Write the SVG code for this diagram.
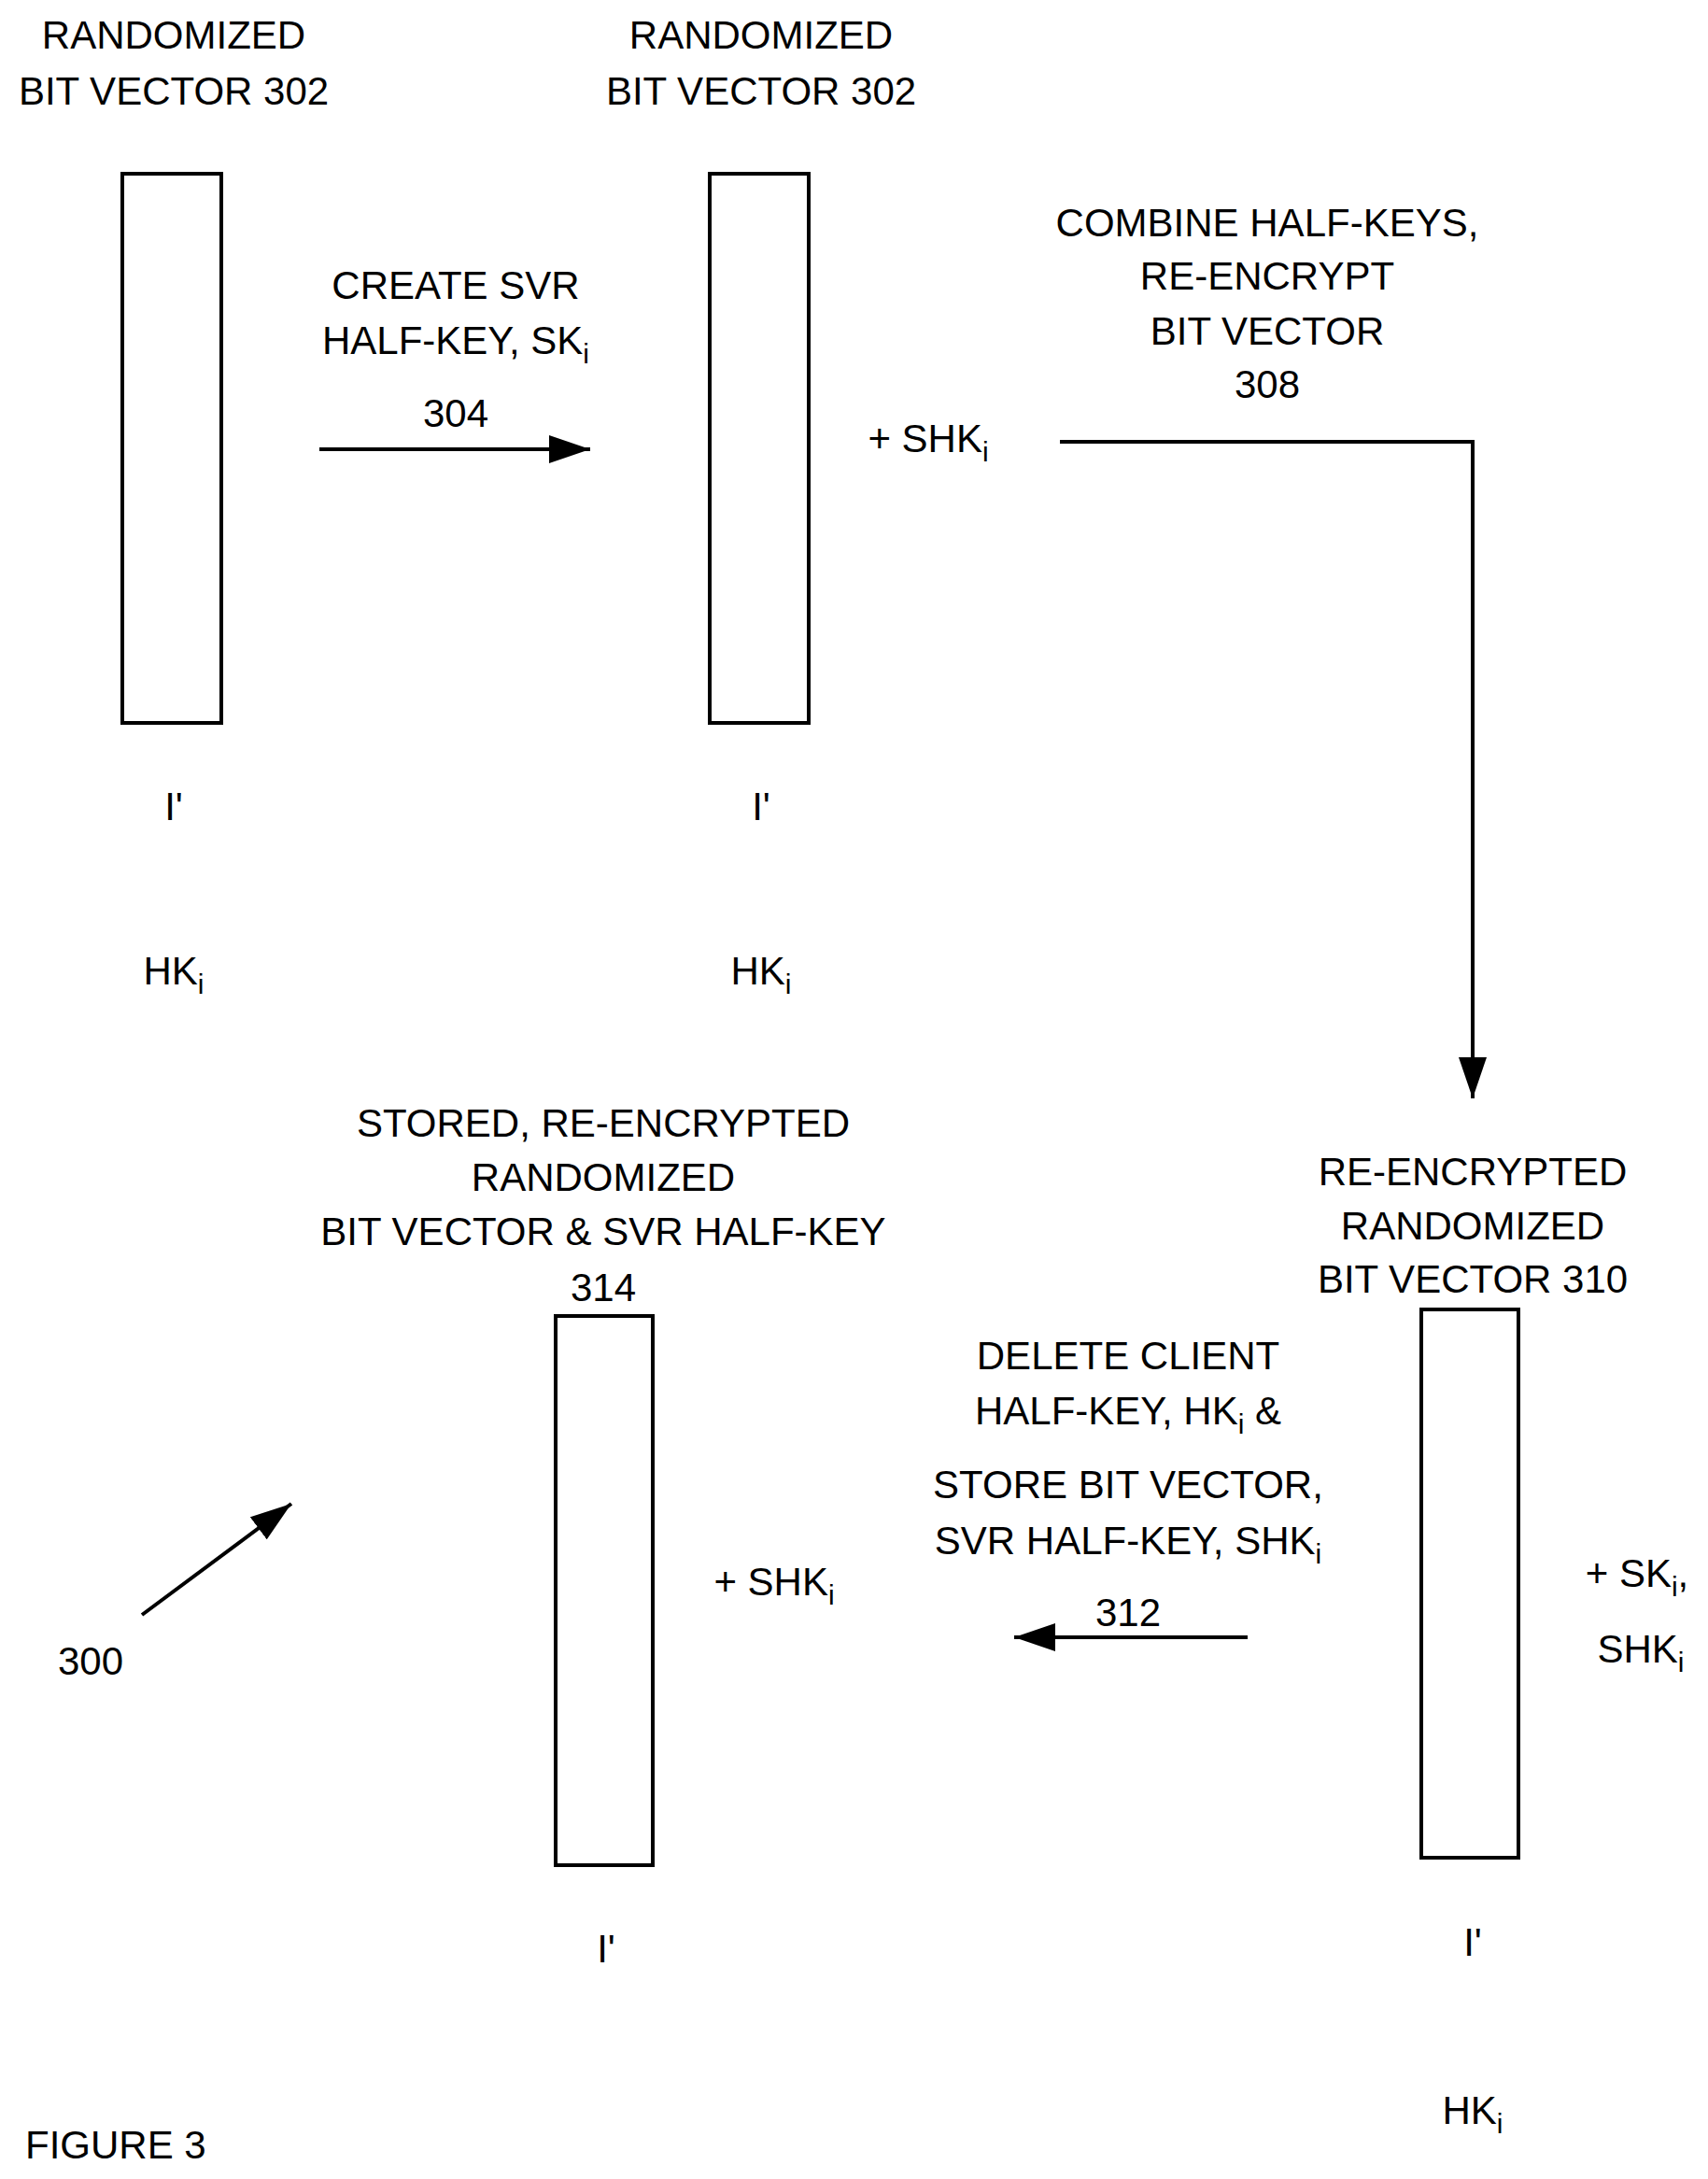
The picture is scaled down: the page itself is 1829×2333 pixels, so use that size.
<svg xmlns="http://www.w3.org/2000/svg" width="1829" height="2333" viewBox="0 0 1829 2333">
<defs>
<style>
text{font-family:"Liberation Sans",Arial,sans-serif;font-size:42px;fill:#000;text-anchor:middle}
.s{font-size:30px}
.l{text-anchor:start}
rect{fill:#fff;stroke:#000;stroke-width:4}
.c{fill:none;stroke:#000;stroke-width:4}
</style>
<marker id="a" viewBox="0 0 10 10" refX="10" refY="5" markerWidth="11" markerHeight="8" markerUnits="userSpaceOnUse" orient="auto" preserveAspectRatio="none"><path d="M0,0L10,5L0,10z"/></marker>
<marker id="b" viewBox="0 0 10 10" refX="10" refY="5" markerWidth="44" markerHeight="30" markerUnits="userSpaceOnUse" orient="auto" preserveAspectRatio="none"><path d="M0,0L10,5L0,10z"/></marker>
</defs>
<rect width="1829" height="2333" style="stroke:none"/>
<g id="n1"><text x="186" y="52">RANDOMIZED</text><text x="186" y="112">BIT VECTOR 302</text><rect x="131" y="186" width="106" height="588"/><text x="186" y="878">I'</text><text x="186" y="1054">HK<tspan class="s" dy="10">i</tspan></text></g>
<g id="n2"><text x="815" y="52">RANDOMIZED</text><text x="815" y="112">BIT VECTOR 302</text><rect x="760" y="186" width="106" height="588"/><text x="815" y="878">I'</text><text x="815" y="1054">HK<tspan class="s" dy="10">i</tspan></text><text x="994" y="484">+ SHK<tspan class="s" dy="10">i</tspan></text></g>
<g id="n3"><text x="1577" y="1269">RE-ENCRYPTED</text><text x="1577" y="1327">RANDOMIZED</text><text x="1577" y="1384">BIT VECTOR 310</text><rect x="1522" y="1402" width="104" height="587"/><text x="1753" y="1699">+ SK<tspan class="s" dy="10">i</tspan><tspan dy="-10">,</tspan></text><text x="1757" y="1780">SHK<tspan class="s" dy="10">i</tspan></text><text x="1577" y="2094">I'</text><text x="1577" y="2274">HK<tspan class="s" dy="10">i</tspan></text></g>
<g id="n4"><text x="646" y="1217">STORED, RE-ENCRYPTED</text><text x="646" y="1275">RANDOMIZED</text><text x="646" y="1333">BIT VECTOR &amp; SVR HALF-KEY</text><text x="646" y="1393">314</text><rect x="595" y="1409" width="104" height="588"/><text x="829" y="1708">+ SHK<tspan class="s" dy="10">i</tspan></text><text x="649" y="2101">I'</text></g>
<g id="connectors">
<text x="488" y="320">CREATE SVR</text><text x="488" y="379">HALF-KEY, SK<tspan class="s" dy="10">i</tspan></text><text x="488" y="457">304</text>
<path class="c" d="M342,481H632" marker-end="url(#b)"/>
<text x="1357" y="253">COMBINE HALF-KEYS,</text><text x="1357" y="310">RE-ENCRYPT</text><text x="1357" y="369">BIT VECTOR</text><text x="1357" y="426">308</text>
<path class="c" d="M1135,473H1577V1176" marker-end="url(#b)"/>
<text x="1208" y="1466">DELETE CLIENT</text><text x="1208" y="1525">HALF-KEY, HK<tspan class="s" dy="10">i</tspan><tspan dy="-10"> &amp;</tspan></text><text x="1208" y="1604">STORE BIT VECTOR,</text><text x="1208" y="1664">SVR HALF-KEY, SHK<tspan class="s" dy="10">i</tspan></text><text x="1208" y="1741">312</text>
<path class="c" d="M1336,1753H1086" marker-end="url(#b)"/>
<path class="c" d="M152,1729L312,1610" marker-end="url(#b)"/>
<text x="97" y="1793">300</text>
</g>
<text class="l" x="27" y="2311">FIGURE 3</text>
</svg>
